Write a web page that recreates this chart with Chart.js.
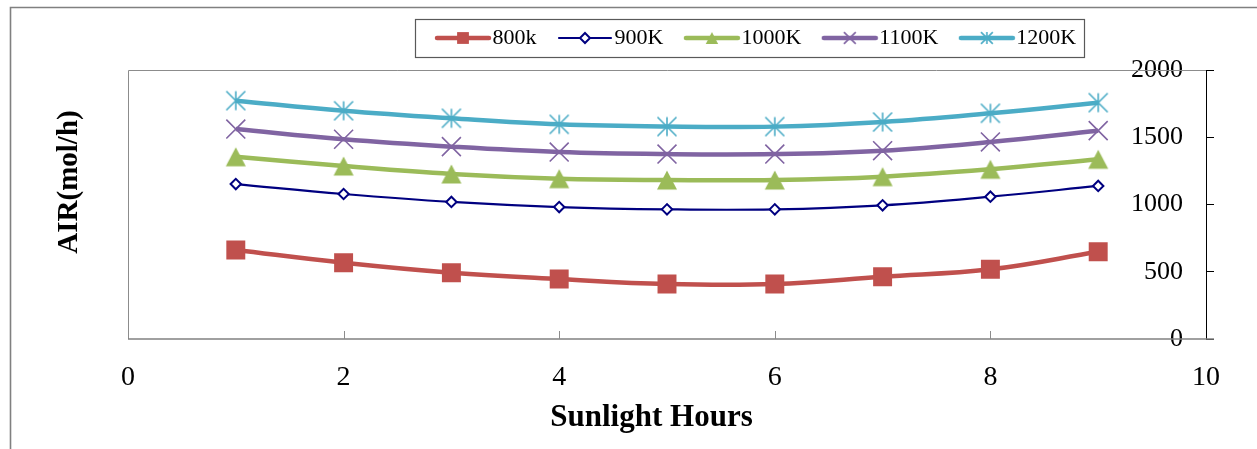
<!DOCTYPE html>
<html>
<head>
<meta charset="utf-8">
<script src="https://cdn.jsdelivr.net/npm/chart.js@4/dist/chart.umd.min.js"></script>
<style>
  html, body { margin: 0; padding: 0; background: #fff; }
  #wrap { width: 1257px; height: 449px; position: relative; }
</style>
</head>
<body>
<div id="wrap"><canvas id="c" width="1257" height="449"></canvas></div>
<script>
// Sunlight hours on the x axis
const hours = [1, 2, 3, 4, 5, 6, 7, 8, 9];
// Air flow (mol/h) per temperature
const air800  = [662, 567, 493, 446, 409, 409, 463, 518, 649];
const air900  = [1152, 1078, 1019, 981, 964, 964, 994, 1058, 1138];
const air1000 = [1355, 1286, 1227, 1192, 1182, 1182, 1207, 1262, 1336];
const air1100 = [1561, 1485, 1430, 1390, 1375, 1375, 1400, 1465, 1549];
const air1200 = [1772, 1697, 1641, 1596, 1579, 1579, 1613, 1678, 1757];
const seriesNames = ['800k', '900K', '1000K', '1100K', '1200K'];
const xTicks = [0, 2, 4, 6, 8, 10];
const yTicks = [0, 500, 1000, 1500, 2000];

const SERIF = "'Liberation Serif', 'Times New Roman', serif";
Chart.defaults.font.family = SERIF;
Chart.defaults.color = '#000';

const COLORS = ['#C0504D', '#000080', '#9BBB59', '#8064A2', '#4BACC6'];
const LINE_W = [4.5, 2.2, 4.5, 4.5, 4.5];

// marker painters (drawn centred at cx, cy with scale s)
function paintMarker(ctx, kind, color, cx, cy, s) {
  ctx.save();
  ctx.lineCap = 'butt';
  if (kind === 'square') {
    ctx.fillStyle = color;
    ctx.fillRect(cx - 9.5 * s, cy - 9.5 * s, 19 * s, 19 * s);
  } else if (kind === 'diamond') {
    ctx.fillStyle = '#fff';
    ctx.strokeStyle = color;
    ctx.lineWidth = 2;
    const r = 5 * s;
    ctx.beginPath();
    ctx.moveTo(cx, cy - r); ctx.lineTo(cx + r, cy); ctx.lineTo(cx, cy + r); ctx.lineTo(cx - r, cy);
    ctx.closePath(); ctx.fill(); ctx.stroke();
  } else if (kind === 'triangle') {
    ctx.fillStyle = color;
    ctx.beginPath();
    ctx.moveTo(cx, cy - 9.5 * s); ctx.lineTo(cx + 10 * s, cy + 9.5 * s); ctx.lineTo(cx - 10 * s, cy + 9.5 * s);
    ctx.closePath(); ctx.fill();
  } else if (kind === 'x') {
    ctx.strokeStyle = color; ctx.lineWidth = 1.6;
    const r = 9.5 * s;
    ctx.beginPath();
    ctx.moveTo(cx - r, cy - r); ctx.lineTo(cx + r, cy + r);
    ctx.moveTo(cx + r, cy - r); ctx.lineTo(cx - r, cy + r);
    ctx.stroke();
  } else if (kind === 'star') {
    ctx.strokeStyle = color; ctx.lineWidth = 1.6;
    const r = 9.5 * s;
    ctx.beginPath();
    ctx.moveTo(cx - r, cy - r); ctx.lineTo(cx + r, cy + r);
    ctx.moveTo(cx + r, cy - r); ctx.lineTo(cx - r, cy + r);
    ctx.moveTo(cx, cy - r); ctx.lineTo(cx, cy + r);
    ctx.stroke();
  }
  ctx.restore();
}

function markerCanvas(kind, color) {
  const c = document.createElement('canvas');
  c.width = 22; c.height = 22;
  paintMarker(c.getContext('2d'), kind, color, 11, 11, 1);
  return c;
}

// legend swatch: line segment with a small marker in the middle
function swatchCanvas(kind, color, lw) {
  const c = document.createElement('canvas');
  c.width = 58; c.height = 22;
  const ctx = c.getContext('2d');
  ctx.strokeStyle = color; ctx.lineWidth = lw; ctx.lineCap = 'round';
  ctx.beginPath(); ctx.moveTo(3, 11); ctx.lineTo(55, 11); ctx.stroke();
  paintMarker(ctx, kind, color, 29, 11, kind === 'diamond' ? 1 : 0.62);
  return c;
}

const KINDS = ['square', 'diamond', 'triangle', 'x', 'star'];
const swatches = KINDS.map((k, i) => swatchCanvas(k, COLORS[i], LINE_W[i]));

const series = [air800, air900, air1000, air1100, air1200];
const datasets = series.map((vals, i) => {
  const ds = {
    label: seriesNames[i],
    data: hours.map((h, j) => ({ x: h, y: vals[j] })),
    borderColor: COLORS[i],
    backgroundColor: COLORS[i],
    borderWidth: LINE_W[i],
    tension: 0.4,
    yAxisID: 'y',
    pointBorderWidth: 0,
    pointBackgroundColor: COLORS[i],
    pointBorderColor: COLORS[i]
  };
  if (i === 0) { ds.pointStyle = 'rect'; ds.pointRadius = 13.4; }
  if (i === 1) { ds.pointStyle = 'rectRot'; ds.pointRadius = 5.2; ds.pointBackgroundColor = '#fff'; ds.pointBorderWidth = 2; }
  if (i === 2) { ds.pointStyle = markerCanvas('triangle', COLORS[i]); ds.pointRadius = 11; }
  if (i === 3) { ds.pointStyle = 'crossRot'; ds.pointRadius = 13.4; ds.pointBorderWidth = 1.6; }
  if (i === 4) { ds.pointStyle = markerCanvas('star', COLORS[i]); ds.pointRadius = 11; }
  return ds;
});

const LEGEND_PAD = 30;
const LEGEND_FONT = 22;

const framePlugin = {
  id: 'frame',
  afterLayout(chart) {
    // legend placement
    const lg = chart.legend;
    if (lg) {
      const w = lg.right - lg.left;
      lg.left = 444.5 - LEGEND_PAD;
      lg.right = lg.left + w;
      const h = lg.bottom - lg.top;
      lg.top = 38 - LEGEND_PAD - LEGEND_FONT / 2;
      lg.bottom = lg.top + h;
    }
    // axis title placement
    const yl = chart.scales.yL;
    yl.top -= 22.5; yl.bottom -= 22.5;
    const xs = chart.scales.x;
    xs.left -= 15.5; xs.right -= 15.5;
  },
  beforeDraw(chart) {
    const ctx = chart.ctx;
    ctx.save();
    ctx.fillStyle = '#fff';
    ctx.fillRect(0, 0, chart.width, chart.height);
    // outer frame
    ctx.strokeStyle = '#808080';
    ctx.lineWidth = 1.6;
    ctx.beginPath();
    ctx.moveTo(10.5, chart.height); ctx.lineTo(10.5, 7.5); ctx.lineTo(chart.width, 7.5);
    ctx.stroke();
    ctx.restore();
  },
  beforeDatasetsDraw(chart) {
    const ctx = chart.ctx;
    const a = chart.chartArea;
    const xs = chart.scales.x;
    ctx.save();
    ctx.strokeStyle = '#8c8c8c';
    ctx.lineWidth = 1;
    ctx.beginPath();
    ctx.moveTo(a.left + 0.5, a.bottom); ctx.lineTo(a.left + 0.5, a.top + 0.5); ctx.lineTo(a.right, a.top + 0.5);
    ctx.stroke();
    ctx.strokeStyle = '#808080';
    ctx.lineWidth = 1.5;
    ctx.beginPath();
    ctx.moveTo(a.left, a.bottom); ctx.lineTo(a.right + 8, a.bottom);
    ctx.stroke();
    // inward tick marks on the x axis
    ctx.lineWidth = 1;
    ctx.strokeStyle = '#8c8c8c';
    ctx.beginPath();
    xTicks.forEach(v => {
      if (v === xTicks[0] || v === xTicks[xTicks.length - 1]) return;
      const px = Math.round(xs.getPixelForValue(v)) + 0.5;
      ctx.moveTo(px, a.bottom); ctx.lineTo(px, a.bottom - 8);
    });
    ctx.stroke();
    ctx.restore();
  },
  afterDraw(chart) {
    const lg = chart.legend;
    if (!lg || !lg.legendHitBoxes || !lg.legendHitBoxes.length) return;
    const hb = lg.legendHitBoxes;
    const first = hb[0], last = hb[hb.length - 1];
    const cy = first.top + first.height / 2;
    const ctx = chart.ctx;
    ctx.save();
    ctx.strokeStyle = '#595959';
    ctx.lineWidth = 1.2;
    const l = Math.round(first.left - 29.5) + 0.5;
    const r = Math.round(last.left + last.width + 8) + 0.5;
    ctx.strokeRect(l, Math.round(cy - 19) + 0.5, r - l, 38);
    ctx.restore();
  }
};

new Chart(document.getElementById('c'), {
  type: 'line',
  data: { datasets },
  plugins: [framePlugin],
  options: {
    responsive: false,
    animation: false,
    devicePixelRatio: 1,
    layout: { padding: { top: 8, right: 31, bottom: 12, left: 0 } },
    plugins: {
      tooltip: { enabled: false },
      legend: {
        display: true,
        position: 'top',
        align: 'start',
        labels: {
          usePointStyle: true,
          pointStyleWidth: 37,
          padding: LEGEND_PAD,
          color: '#000',
          font: { family: SERIF, size: LEGEND_FONT },
          generateLabels(chart) {
            const items = Chart.defaults.plugins.legend.labels.generateLabels(chart);
            items.forEach((it, i) => { it.pointStyle = swatches[i]; it.fontColor = '#000'; });
            return items;
          }
        }
      }
    },
    scales: {
      x: {
        type: 'linear',
        position: 'bottom',
        min: 0, max: 10,
        afterBuildTicks(s) { s.ticks = xTicks.map(v => ({ value: v })); },
        afterFit(s) { s.height = 98; },
        grid: { display: false, drawTicks: false },
        border: { display: false },
        ticks: {
          font: { family: SERIF, size: 28 }, color: '#000', padding: 22.2, maxRotation: 0, autoSkip: false,
          callback: v => String(v)
        },
        title: {
          display: true,
          text: 'Sunlight Hours',
          color: '#000',
          font: { family: SERIF, size: 31, weight: 'bold', lineHeight: 1.2 },
          padding: { top: 0, bottom: 0 }
        }
      },
      y: {
        type: 'linear',
        position: 'right',
        min: 0, max: 2000,
        afterBuildTicks(s) { s.ticks = yTicks.map(v => ({ value: v })); },
        afterFit(s) { s.width = 20; },
        grid: { drawOnChartArea: false, drawTicks: true, tickLength: 8, color: '#000', lineWidth: 1 },
        border: { display: true, color: '#000', width: 1 },
        ticks: {
          mirror: true, padding: -23, font: { family: SERIF, size: 26 }, color: '#000',
          callback: v => String(v)
        }
      },
      yL: {
        type: 'linear',
        position: 'left',
        min: 0, max: 1,
        afterFit(s) { s.width = 128; },
        grid: { display: false, drawTicks: false },
        border: { display: false },
        ticks: { display: false },
        title: {
          display: true,
          text: 'AIR(mol/h)',
          color: '#000',
          font: { family: SERIF, size: 29, weight: 'bold', lineHeight: 1.2 },
          padding: { top: 52.6, bottom: 0 }
        }
      }
    }
  }
});
</script>
</body>
</html>
